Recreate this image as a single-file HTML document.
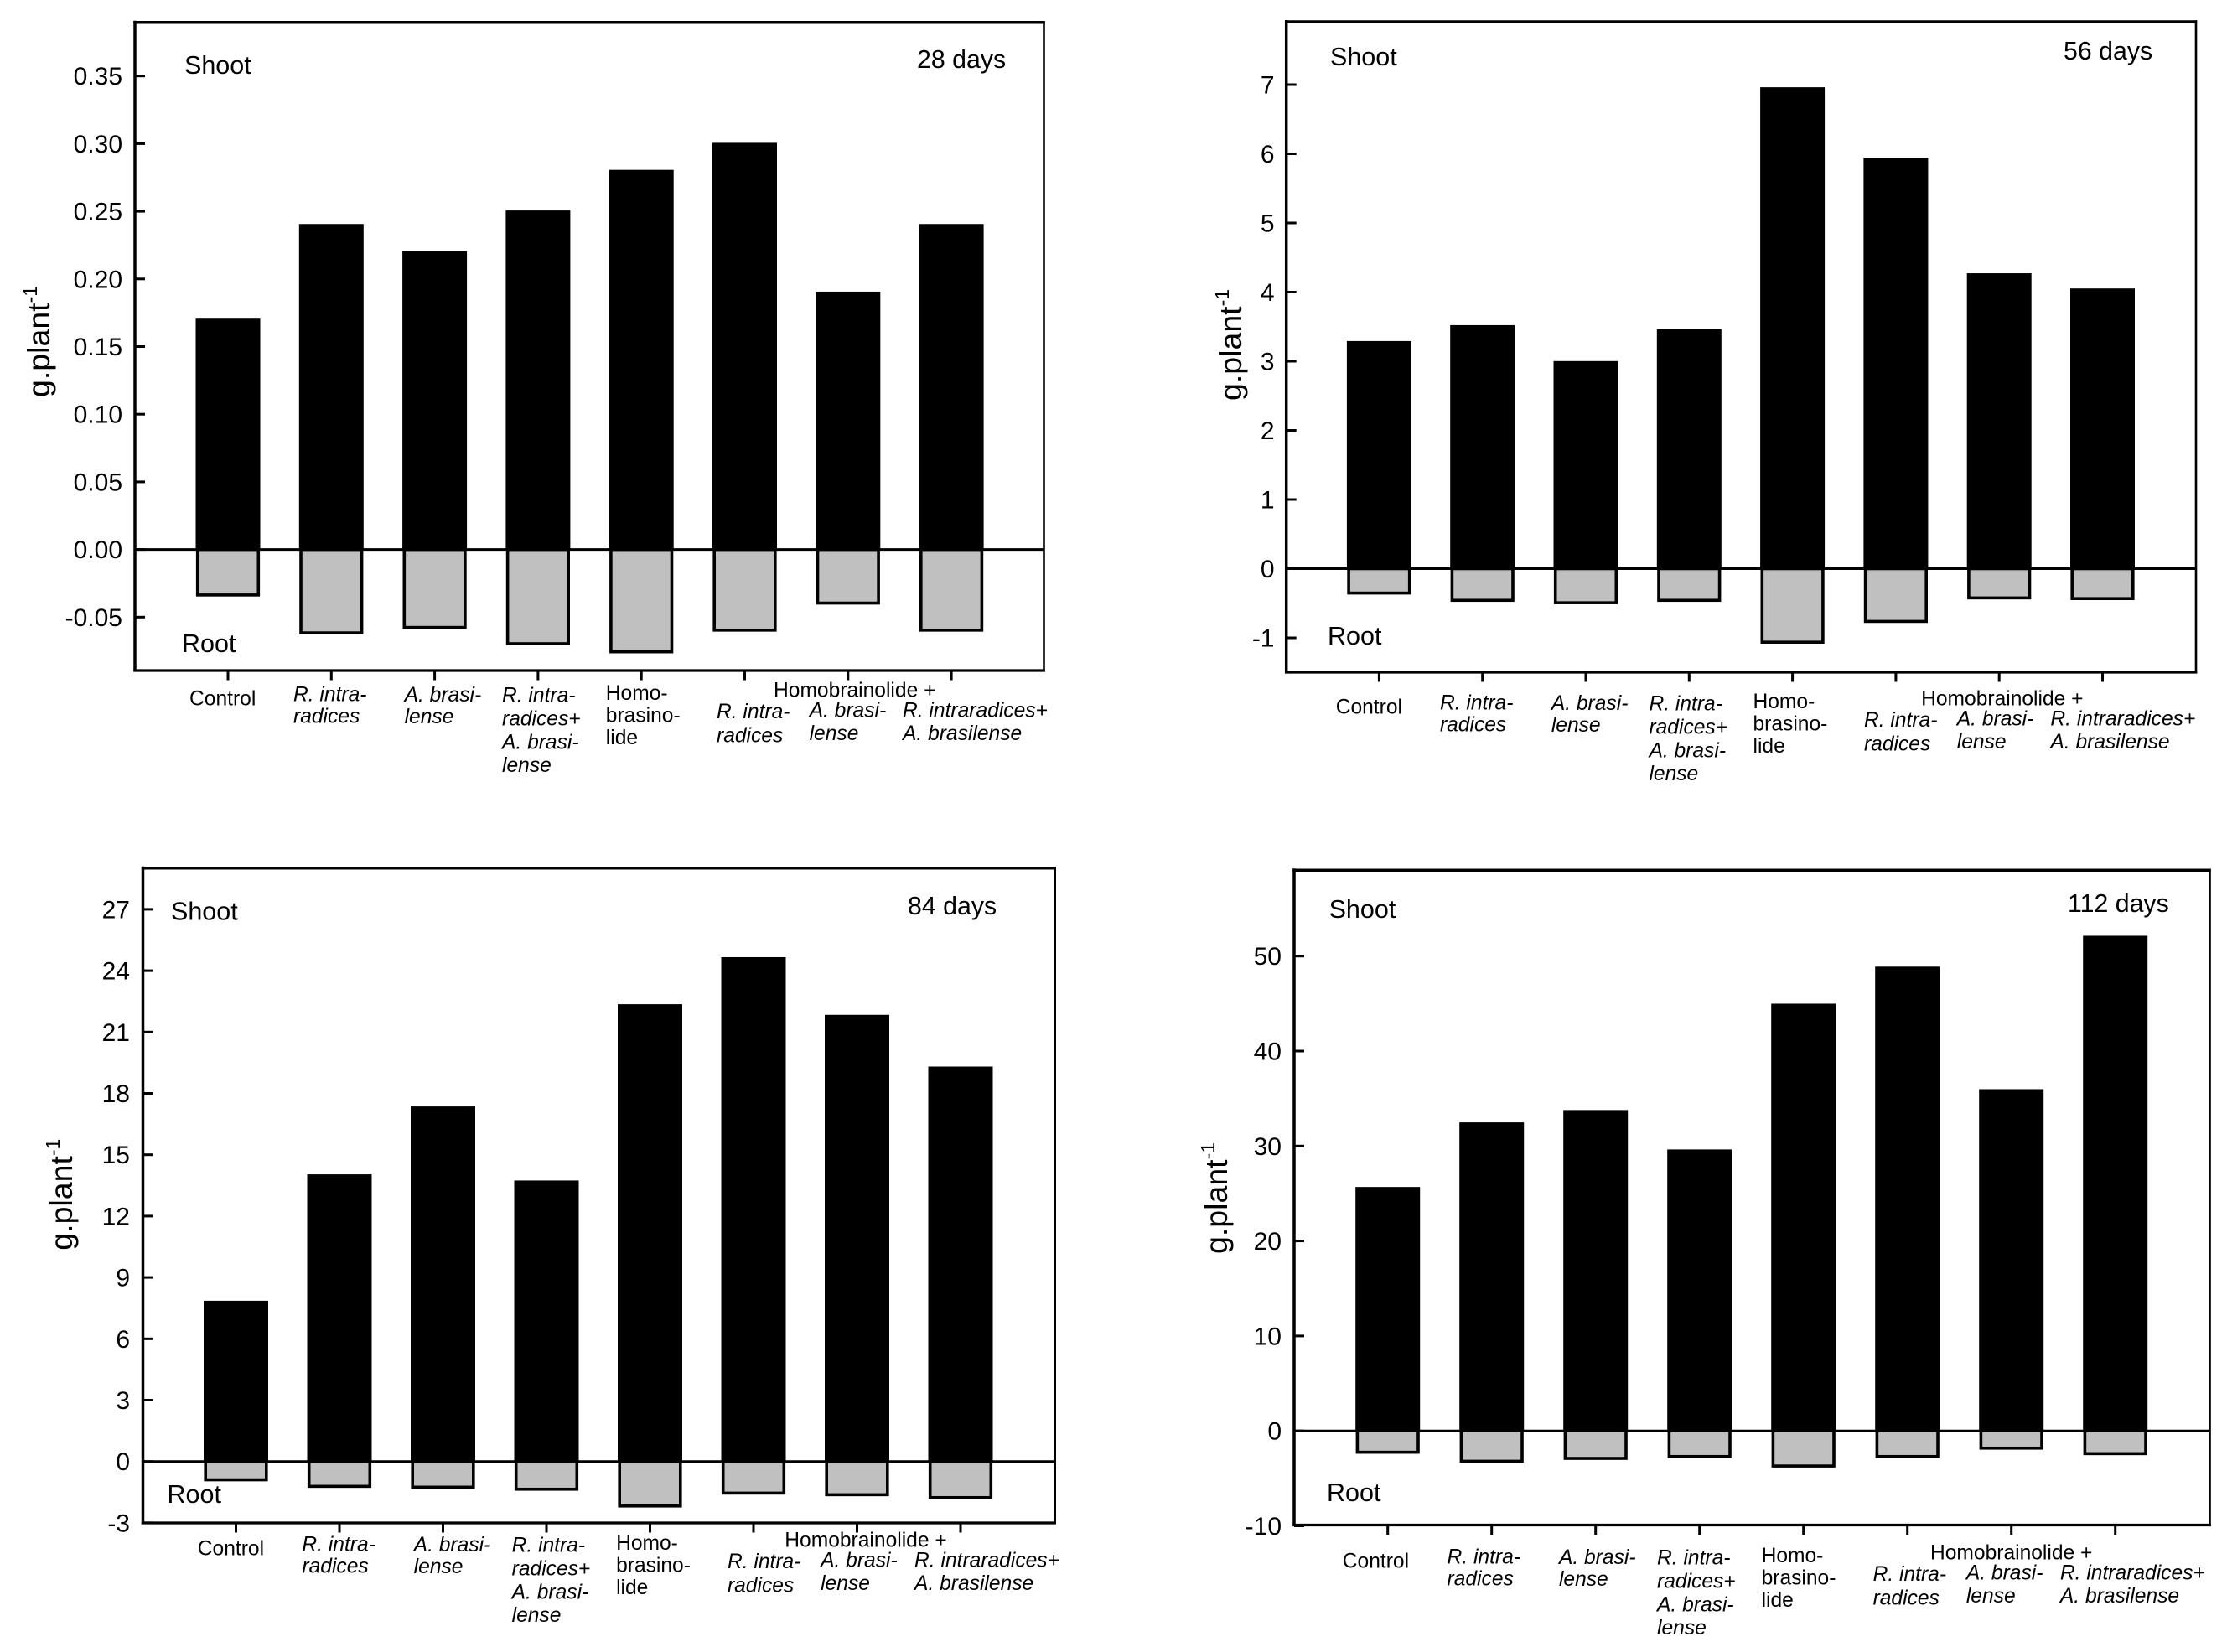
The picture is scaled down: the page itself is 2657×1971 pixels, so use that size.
<!DOCTYPE html>
<html lang="en">
<head>
<meta charset="utf-8">
<title>Shoot and root dry weight at 28, 56, 84 and 112 days</title>
<style>
  html, body { margin: 0; padding: 0; background: #fff; }
  svg { display: block; }
  text { font-family: "Liberation Sans", Arial, sans-serif; fill: #000; }
</style>
</head>
<body>
<svg id="figure" xmlns="http://www.w3.org/2000/svg" width="2657" height="1971" viewBox="0 0 2657 1971"></svg>
<script>
// ---------- data ----------
const categories = ["Control", "R. intraradices", "A. brasilense", "R. intraradices + A. brasilense", "Homobrasinolide", "Homobrainolide + R. intraradices", "Homobrainolide + A. brasilense", "Homobrainolide + R. intraradices + A. brasilense"];

const shoot28 = [0.17, 0.24, 0.22, 0.25, 0.28, 0.30, 0.19, 0.24];
const root28 = [-0.034, -0.062, -0.058, -0.070, -0.076, -0.060, -0.040, -0.060];
const ticks28 = [-0.05, 0.00, 0.05, 0.10, 0.15, 0.20, 0.25, 0.30, 0.35];
const tickLabels28 = ["-0.05", "0.00", "0.05", "0.10", "0.15", "0.20", "0.25", "0.30", "0.35"];

const shoot56 = [3.28, 3.51, 2.99, 3.45, 6.95, 5.93, 4.26, 4.04];
const root56 = [-0.36, -0.465, -0.50, -0.465, -1.07, -0.77, -0.43, -0.44];
const ticks56 = [-1, 0, 1, 2, 3, 4, 5, 6, 7];
const tickLabels56 = ["-1", "0", "1", "2", "3", "4", "5", "6", "7"];

const shoot84 = [7.82, 14.0, 17.32, 13.7, 22.32, 24.62, 21.8, 19.27];
const root84 = [-0.92, -1.24, -1.28, -1.38, -2.2, -1.57, -1.65, -1.79];
const ticks84 = [-3, 0, 3, 6, 9, 12, 15, 18, 21, 24, 27];
const tickLabels84 = ["-3", "0", "3", "6", "9", "12", "15", "18", "21", "24", "27"];

const shoot112 = [25.6, 32.4, 33.7, 29.55, 44.9, 48.8, 35.9, 52.05];
const root112 = [-2.3, -3.25, -2.95, -2.75, -3.75, -2.75, -1.87, -2.45];
const ticks112 = [-10, 0, 10, 20, 30, 40, 50];
const tickLabels112 = ["-10", "0", "10", "20", "30", "40", "50"];

// ---------- layout (pixels, separate from data) ----------
const panels = [
  { id: "28-days", title: "28 days", shoot: shoot28, root: root28, ticks: ticks28, tickLabels: tickLabels28,
    left: 161, right: 1245.5, top: 26.7, bottom: 800, zero: 655.6, k: 1614, firstX: 272, stepX: 123.3,
    tickRight: 146, titleX: 1094, titleY: 81, shootX: 220, shootY: 88, rootX: 217, rootY: 778,
    yTitleX: 59, yTitleY: 474, labelDx: 0, labelDy: 0, labelSx: 1 },
  { id: "56-days", title: "56 days", shoot: shoot56, root: root56, ticks: ticks56, tickLabels: tickLabels56,
    left: 1534.7, right: 2620, top: 26, bottom: 802, zero: 678.5, k: 82.5, firstX: 1645.4, stepX: 123.3,
    tickRight: 1520.5, titleX: 2462, titleY: 71, shootX: 1587, shootY: 78, rootX: 1584, rootY: 769,
    yTitleX: 1481, yTitleY: 478, labelDx: 1367.7, labelDy: 10, labelSx: 1.002 },
  { id: "84-days", title: "84 days", shoot: shoot84, root: root84, ticks: ticks84, tickLabels: tickLabels84,
    left: 170.5, right: 1258.7, top: 1035.7, bottom: 1817, zero: 1743.7, k: 24.4, firstX: 281.5, stepX: 123.5,
    tickRight: 155, titleX: 1083, titleY: 1091, shootX: 204, shootY: 1097.7, rootX: 199.5, rootY: 1793,
    yTitleX: 86, yTitleY: 1491.7, labelDx: 9.8, labelDy: 1014, labelSx: 1.005 },
  { id: "112-days", title: "112 days", shoot: shoot112, root: root112, ticks: ticks112, tickLabels: tickLabels112,
    left: 1544, right: 2636.5, top: 1038.3, bottom: 1819.5, zero: 1707.2, k: 11.33, firstX: 1655.7, stepX: 124,
    tickRight: 1529, titleX: 2467, titleY: 1088, shootX: 1585.6, shootY: 1095, rootX: 1583, rootY: 1791,
    yTitleX: 1464, yTitleY: 1496, labelDx: 1375.8, labelDy: 1029, labelSx: 1.006 }
];

const labelLines = [
  { t: "Control", x: 226, y: 841.7, i: false, f: "control" },
  { t: "R. intra-", x: 350, y: 836.7, i: true, f: "r-intraradices" },
  { t: "radices", x: 350, y: 862.7, i: true, f: "r-intraradices" },
  { t: "A. brasi-", x: 482.6, y: 837, i: true, f: "a-brasilense" },
  { t: "lense", x: 482.6, y: 863, i: true, f: "a-brasilense" },
  { t: "R. intra-", x: 599, y: 837.3, i: true, f: "r-intra-a-brasi" },
  { t: "radices+", x: 599, y: 865.7, i: true, f: "r-intra-a-brasi" },
  { t: "A. brasi-", x: 599, y: 893.3, i: true, f: "r-intra-a-brasi" },
  { t: "lense", x: 599, y: 921, i: true, f: "r-intra-a-brasi" },
  { t: "Homo-", x: 722.8, y: 835, i: false, f: "homobrasinolide" },
  { t: "brasino-", x: 722.8, y: 861.7, i: false, f: "homobrasinolide" },
  { t: "lide", x: 722.8, y: 888, i: false, f: "homobrasinolide" },
  { t: "Homobrainolide +", x: 923, y: 831.7, i: false, f: "homobrainolide-group" },
  { t: "R. intra-", x: 855, y: 857, i: true, f: "homo-r-intra" },
  { t: "radices", x: 855, y: 885.7, i: true, f: "homo-r-intra" },
  { t: "A. brasi-", x: 965.6, y: 855.7, i: true, f: "homo-a-brasi" },
  { t: "lense", x: 965.6, y: 883, i: true, f: "homo-a-brasi" },
  { t: "R. intraradices+", x: 1077, y: 855.7, i: true, f: "homo-r-intra-a-brasi" },
  { t: "A. brasilense", x: 1077, y: 883, i: true, f: "homo-r-intra-a-brasi" }
];

const BAR_W = 77;
const NS = "http://www.w3.org/2000/svg";
const svg = document.getElementById("figure");

function make(tag, attrs, parent) {
  const el = document.createElementNS(NS, tag);
  for (const key in attrs) el.setAttribute(key, attrs[key]);
  parent.appendChild(el);
  return el;
}

panels.forEach(function (p) {
  const xScale = function (i) { return p.firstX + i * p.stepX; };
  const yScale = function (v) { return p.zero - v * p.k; };

  const g = make("g", {}, svg);
  
  

  // shoot bars
  p.shoot.forEach(function (v, i) {
    const bar = make("rect", { x: xScale(i) - BAR_W / 2, y: yScale(v) - 1, width: BAR_W, height: p.zero - yScale(v) + 1, fill: "#000" }, g);
    
    
    const tip = make("title", {}, bar);
    tip.textContent = categories[i];
  });

  // root bars
  p.root.forEach(function (v, i) {
    const bar = make("rect", { x: xScale(i) - BAR_W / 2 + 2.2, y: p.zero, width: BAR_W - 4.4, height: yScale(v) - p.zero - 0.6, fill: "#c0c0c0", stroke: "#000", "stroke-width": 3.6 }, g);
    
    
  });

  // zero line
  const zeroLine = make("line", { x1: p.left, x2: p.right, y1: p.zero, y2: p.zero, stroke: "#000", "stroke-width": 3 }, g);
  
  

  // frame
  const frameLeft = make("line", { x1: p.left, x2: p.left, y1: p.top - 2, y2: p.bottom + 1.5, stroke: "#000", "stroke-width": 3.5 }, g);
  
  
  const frameTop = make("line", { x1: p.left - 1.7, x2: p.right + 1.2, y1: p.top, y2: p.top, stroke: "#000", "stroke-width": 3.5 }, g);
  
  
  const frameRight = make("line", { x1: p.right, x2: p.right, y1: p.top - 1.7, y2: p.bottom + 1.5, stroke: "#000", "stroke-width": 2.6 }, g);
  
  
  const frameBottom = make("line", { x1: p.left - 1.7, x2: p.right + 1.3, y1: p.bottom, y2: p.bottom, stroke: "#000", "stroke-width": 3.2 }, g);
  
  

  // y ticks and labels
  p.ticks.forEach(function (v, i) {
    const tick = make("line", { x1: p.left, x2: p.left + 12, y1: yScale(v), y2: yScale(v), stroke: "#000", "stroke-width": 3 }, g);
    
    
    const label = make("text", { x: p.tickRight, y: yScale(v) + 10.5, "text-anchor": "end", "font-size": 30 }, g);
    
    
    label.textContent = p.tickLabels[i];
  });

  // x ticks
  p.shoot.forEach(function (v, i) {
    const tick = make("line", { x1: xScale(i), x2: xScale(i), y1: p.bottom, y2: p.bottom + 11.5, stroke: "#000", "stroke-width": 3 }, g);
    
    
  });

  // category label lines
  labelLines.forEach(function (l) {
    const attrs = { x: 226 + p.labelDx + (l.x - 226) * p.labelSx, y: l.y + p.labelDy, "font-size": 24.6 };
    if (l.i) attrs["font-style"] = "italic";
    const label = make("text", attrs, g);
    
    
    label.textContent = l.t;
  });

  // annotations
  const shootText = make("text", { x: p.shootX, y: p.shootY, "font-size": 30.5 }, g);
  
  
  shootText.textContent = "Shoot";

  const rootText = make("text", { x: p.rootX, y: p.rootY, "font-size": 30.5 }, g);
  
  
  rootText.textContent = "Root";

  const titleText = make("text", { x: p.titleX, y: p.titleY, "font-size": 30.3 }, g);
  
  
  titleText.textContent = p.title;

  // y-axis title
  const yTitle = make("text", { x: p.yTitleX, y: p.yTitleY, "font-size": 37.5, transform: "rotate(-90 " + p.yTitleX + " " + p.yTitleY + ")" }, g);
  
  
  const main = make("tspan", {}, yTitle);
  main.textContent = "g.plant";
  const sup = make("tspan", { dy: -15, "font-size": 23 }, yTitle);
  sup.textContent = "-1";
});
</script>
</body>
</html>
